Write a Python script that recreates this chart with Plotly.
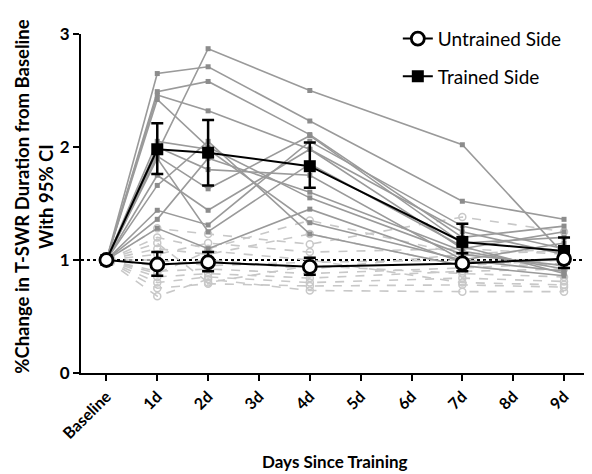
import plotly.graph_objects as go

# ---- data ----
tick_labels = ["Baseline", "1d", "2d", "3d", "4d", "5d", "6d", "7d", "8d", "9d"]
days = [0, 1, 2, 4, 7, 9]

trained_subjects = [
    [1, 1.95, 2.87, 2.50, 2.02, 1.05],
    [1, 2.65, 2.71, 2.23, 1.52, 1.36],
    [1, 2.49, 2.58, 2.11, 1.20, 1.30],
    [1, 2.46, 2.32, 1.98, 1.10, 1.25],
    [1, 2.42, 2.00, 1.55, 1.05, 0.95],
    [1, 2.05, 1.98, 1.33, 1.00, 0.90],
    [1, 1.92, 1.63, 2.10, 1.15, 1.20],
    [1, 1.75, 1.44, 1.98, 1.25, 1.05],
    [1, 1.66, 2.05, 1.23, 0.95, 0.86],
    [1, 1.44, 1.31, 2.05, 1.30, 1.10],
    [1, 1.36, 1.90, 1.60, 1.08, 0.92],
    [1, 1.28, 1.10, 1.45, 0.98, 1.00],
    [1, 2.00, 1.80, 1.75, 1.00, 1.15],
    [1, 1.90, 1.25, 1.85, 1.12, 0.88],
]

untrained_subjects = [
    [1, 1.28, 1.23, 1.14, 1.38, 1.25],
    [1, 1.20, 1.10, 1.35, 1.05, 1.10],
    [1, 1.10, 1.05, 1.23, 0.95, 1.00],
    [1, 1.05, 1.15, 1.07, 1.10, 1.05],
    [1, 1.00, 0.95, 0.98, 1.00, 0.95],
    [1, 0.95, 1.00, 0.92, 1.05, 1.08],
    [1, 0.90, 0.92, 0.88, 0.93, 0.97],
    [1, 0.85, 0.88, 0.84, 0.90, 0.92],
    [1, 0.80, 0.85, 0.80, 0.84, 0.81],
    [1, 0.75, 0.79, 0.77, 0.78, 0.76],
    [1, 0.68, 0.83, 0.73, 0.72, 0.72],
    [1, 1.15, 0.80, 0.95, 0.88, 0.85],
    [1, 0.88, 1.08, 1.00, 0.80, 0.78],
]

trained_mean = [1.0, 1.98, 1.95, 1.83, 1.16, 1.08]
trained_ci_hi = [1.0, 2.21, 2.24, 2.04, 1.32, 1.20]
trained_ci_lo = [1.0, 1.76, 1.66, 1.64, 1.00, 0.97]

untrained_mean = [1.0, 0.96, 0.98, 0.94, 0.97, 1.01]
untrained_ci_hi = [1.0, 1.07, 1.07, 1.02, 1.06, 1.10]
untrained_ci_lo = [1.0, 0.86, 0.90, 0.87, 0.90, 0.93]

FONT = "Lato"

fig = go.Figure()

for s in untrained_subjects:
    fig.add_trace(go.Scatter(
        x=days, y=s, mode="lines+markers", showlegend=False, hoverinfo="skip",
        line=dict(color="#c8c8c8", width=1.6, dash="dash"),
        marker=dict(symbol="circle-open", size=7, color="#c8c8c8", line=dict(width=1.5)),
    ))

for s in trained_subjects:
    fig.add_trace(go.Scatter(
        x=days, y=s, mode="lines+markers", showlegend=False, hoverinfo="skip",
        line=dict(color="#9a9a9a", width=1.6),
        marker=dict(symbol="square", size=5, color="#8c8c8c"),
    ))

fig.add_trace(go.Scatter(
    x=days, y=trained_mean, mode="lines+markers", name="Trained Side",
    legendgroup="t", legendrank=2,
    line=dict(color="black", width=2),
    marker=dict(symbol="square", size=12, color="black"),
    error_y=dict(type="data", symmetric=False,
                 array=[h - m for h, m in zip(trained_ci_hi, trained_mean)],
                 arrayminus=[m - l for l, m in zip(trained_ci_lo, trained_mean)],
                 color="black", thickness=2.5, width=6),
))

fig.add_trace(go.Scatter(
    x=days, y=untrained_mean, mode="lines+markers", name="Untrained Side",
    legendgroup="u", legendrank=1,
    line=dict(color="black", width=2),
    marker=dict(symbol="circle", size=13, color="white", line=dict(color="black", width=2.8)),
    error_y=dict(type="data", symmetric=False,
                 array=[h - m for h, m in zip(untrained_ci_hi, untrained_mean)],
                 arrayminus=[m - l for l, m in zip(untrained_ci_lo, untrained_mean)],
                 color="black", thickness=2.5, width=6),
))

fig.add_shape(type="line", xref="paper", yref="y", x0=0, x1=1, y0=1, y1=1,
              line=dict(color="black", width=2, dash="dot"), layer="below")

# axis titles as annotations for exact placement
fig.add_annotation(text="<b>Days Since Training</b>", xref="paper", yref="paper",
                   x=0.497, y=-0.262, xanchor="center", yanchor="middle", showarrow=False,
                   font=dict(size=17, family=FONT, color="black"))
fig.add_annotation(text="<b>%Change in T-SWR Duration from Baseline<br>With 95% CI</b>",
                   xref="paper", yref="paper", x=-0.092, y=0.52, textangle=-90,
                   xanchor="center", yanchor="middle", showarrow=False,
                   font=dict(size=18.5, family=FONT, color="black"))

fig.update_layout(
    width=584, height=466,
    margin=dict(l=73, r=0, t=26, b=101),
    plot_bgcolor="white", paper_bgcolor="white",
    font=dict(family=FONT, color="black"),
    legend=dict(x=0.62, y=1.042, xanchor="left", yanchor="top",
                traceorder="grouped", tracegroupgap=10,
                font=dict(size=19, family=FONT, color="black"),
                bgcolor="rgba(0,0,0,0)"),
    xaxis=dict(range=[-0.5, 9.55], tickvals=list(range(10)), ticktext=tick_labels,
               tickangle=-45, showline=True, linecolor="black", linewidth=2,
               ticks="outside", ticklen=6, tickwidth=2, tickcolor="black",
               showgrid=False, zeroline=False, automargin=False,
               tickfont=dict(size=16, family=FONT, color="black", weight="bold")),
    yaxis=dict(range=[0, 3], tickvals=[0, 1, 2, 3], showline=True, linecolor="black",
               linewidth=2, ticks="outside", ticklen=6, tickwidth=2, tickcolor="black",
               showgrid=False, zeroline=False, automargin=False,
               tickfont=dict(size=17, family=FONT, color="black", weight="bold")),
)

fig.write_html("out.html")
